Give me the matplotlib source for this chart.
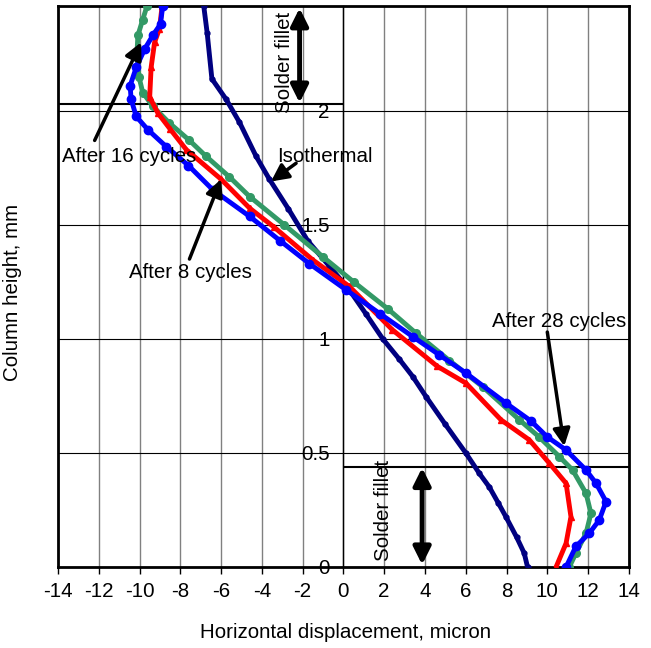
import matplotlib.pyplot as plt

plt.rcParams['font.family'] = ['Liberation Sans', 'DejaVu Sans']

# displacement (micron) vs column height (mm)
iso_x = [-6.85, -6.68, -6.45, -5.75, -5.1, -4.28, -3.63, -2.7, -1.75, -0.7, 0.29,
         1.1, 1.93, 2.75, 3.4, 4.05, 5.0, 6.0, 6.67, 7.16, 7.6, 7.97, 8.5, 8.87, 9.03]
iso_y = [2.46, 2.34, 2.14, 2.05, 1.95, 1.80, 1.70, 1.57, 1.43, 1.32, 1.215,
         1.11, 1.0, 0.91, 0.835, 0.747, 0.625, 0.5, 0.41, 0.35, 0.28, 0.22, 0.13, 0.06, 0.0]

c8_x = [-8.89, -9.02, -9.26, -9.43, -9.5, -9.1, -8.5, -7.71, -6.0, -4.6, -3.4, -1.5,
        0.29, 2.4, 4.6, 6.01, 7.73, 9.12, 10.1, 10.92, 11.16, 10.92, 10.43]
c8_y = [2.46, 2.36, 2.30, 2.19, 2.06, 1.99, 1.92, 1.83, 1.70, 1.573, 1.49, 1.346,
        1.23, 1.04, 0.88, 0.806, 0.645, 0.557, 0.455, 0.367, 0.22, 0.104, 0.0]

c16_x = [-9.63, -9.84, -10.08, -10.13, -10.03, -9.84, -9.35, -8.53, -7.55, -6.73, -5.59,
         -4.6, -2.9, -1.01, 0.5, 2.2, 3.56, 5.2, 6.83, 8.63, 9.6, 10.59, 11.24, 11.9,
         12.14, 11.9, 11.4, 11.08]
c16_y = [2.46, 2.40, 2.33, 2.24, 2.15, 2.08, 2.02, 1.946, 1.87, 1.80, 1.71,
         1.624, 1.50, 1.36, 1.25, 1.13, 1.025, 0.905, 0.79, 0.645, 0.57, 0.484, 0.425, 0.323,
         0.235, 0.148, 0.06, 0.0]

c28_x = [-8.86, -8.97, -9.35, -9.75, -10.16, -10.46, -10.41, -10.16, -9.59, -8.69, -7.6,
         -6.4, -4.6, -3.1, -1.67, 0.13, 1.8, 3.4, 4.7, 6.01, 7.98, 9.2, 10.0, 10.92,
         11.9, 12.39, 12.88, 12.55, 12.06, 11.4, 10.92]
c28_y = [2.46, 2.38, 2.33, 2.27, 2.19, 2.11, 2.05, 1.975, 1.917, 1.843, 1.76,
         1.653, 1.537, 1.43, 1.33, 1.215, 1.11, 1.01, 0.93, 0.85, 0.718, 0.64, 0.57, 0.513,
         0.425, 0.367, 0.287, 0.206, 0.148, 0.09, 0.0]

x_ticks = list(range(-14, 15, 2))
y_ticks = [0, 0.5, 1, 1.5, 2]
y_labels = ['0', '0.5', '1', '1.5', '2']

fs = 14.8

fig = plt.figure(figsize=(6.51, 6.48), dpi=100)
ax = fig.add_axes([0.089, 0.125, 0.877, 0.866])

ax.set_xlim(-14, 14)
ax.set_ylim(0, 2.46)
ax.set_xticks(x_ticks)
ax.set_xticklabels([str(t) for t in x_ticks])
ax.set_yticks(y_ticks)
ax.set_yticklabels(y_labels)
ax.grid(axis='x', color='#808080', lw=1)
ax.grid(axis='y', color='black', lw=0.8)
ax.set_axisbelow(True)

# y axis sits at x = 0, frame drawn separately
ax.spines['left'].set_position(('data', 0))
ax.spines['left'].set_linewidth(1)
for s in ['top', 'right', 'bottom']:
    ax.spines[s].set_linewidth(2)
ax.axvline(-14, color='black', lw=2, clip_on=False)

ax.tick_params(axis='y', length=0, pad=10, labelsize=fs)
ax.tick_params(axis='x', direction='out', length=5, width=1, pad=6, labelsize=fs)

ax.plot(iso_x, iso_y, color='#000080', lw=3.5, marker='o', ms=3.5, zorder=3)
ax.plot(c16_x, c16_y, color='#339966', lw=3.5, marker='o', ms=5.5, zorder=3)
ax.plot(c8_x, c8_y, color='#FF0000', lw=3.5, marker='^', ms=5, zorder=3)
ax.plot(c28_x, c28_y, color='#0000FF', lw=3.5, marker='o', ms=6, zorder=3)

# solder fillet boundaries
ax.hlines(2.03, -14, 0, color='black', lw=1.5, zorder=2)
ax.hlines(0.44, 0, 14, color='black', lw=1.5, zorder=2)

dbl = dict(arrowstyle='<|-|>', lw=3.5, color='black', mutation_scale=26,
           shrinkA=0, shrinkB=0)
ax.annotate('', xy=(-2.15, 2.45), xytext=(-2.15, 2.035), arrowprops=dbl)
ax.annotate('', xy=(3.86, 0.435), xytext=(3.86, 0.01), arrowprops=dbl)
ax.text(-2.9, 2.21, 'Solder fillet', rotation=90, ha='center', va='center', fontsize=fs)
ax.text(1.96, 0.25, 'Solder fillet', rotation=90, ha='center', va='center', fontsize=fs)

one = dict(arrowstyle='-|>', lw=2.5, color='black', mutation_scale=26,
           shrinkA=0, shrinkB=0)
ax.text(-13.8, 1.80, 'After 16 cycles', ha='left', va='center', fontsize=fs)
ax.annotate('', xy=(-9.92, 2.3), xytext=(-12.2, 1.87), arrowprops=one)
ax.text(-10.5, 1.29, 'After 8 cycles', ha='left', va='center', fontsize=fs)
ax.annotate('', xy=(-6.0, 1.70), xytext=(-7.55, 1.35), arrowprops=one)
ax.text(-3.24, 1.80, 'Isothermal', ha='left', va='center', fontsize=fs)
ax.annotate('', xy=(-3.55, 1.69), xytext=(-2.32, 1.77), arrowprops=one)
ax.text(7.3, 1.075, 'After 28 cycles', ha='left', va='center', fontsize=fs)
ax.annotate('', xy=(10.83, 0.53), xytext=(10.0, 1.03), arrowprops=one)

ax.set_xlabel('Horizontal displacement, micron', fontsize=fs)
ax.xaxis.set_label_coords(0.503, -0.1)
ax.set_ylabel('Column height, mm', fontsize=fs)
ax.yaxis.set_label_coords(-0.063, 0.49)

fig.savefig('out.png', dpi=100)
